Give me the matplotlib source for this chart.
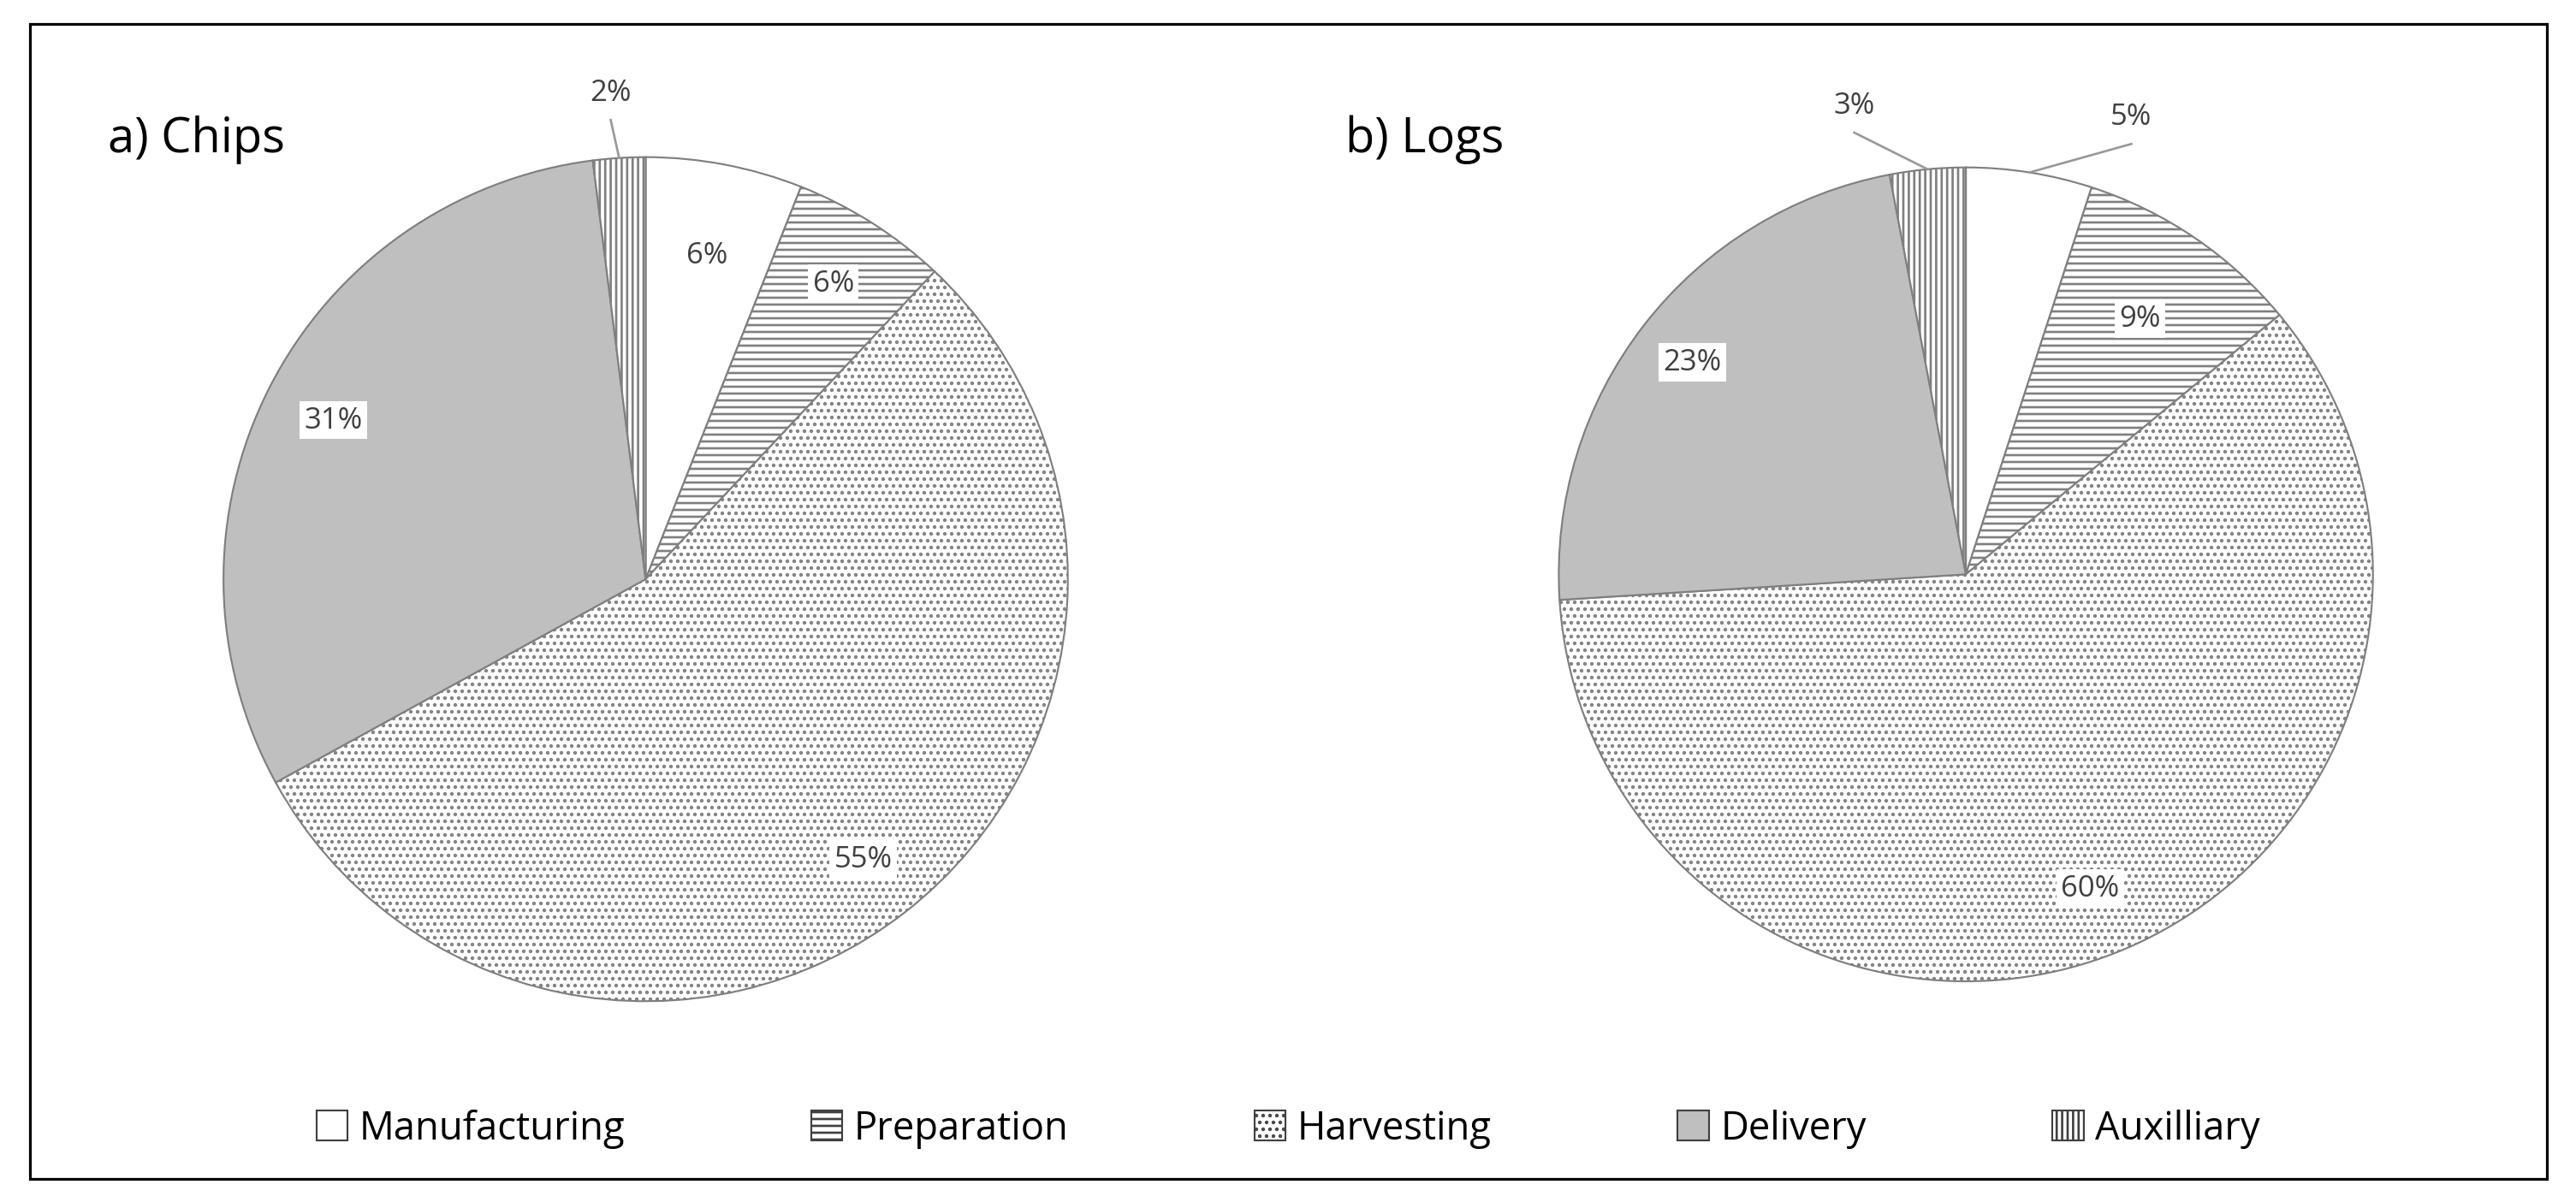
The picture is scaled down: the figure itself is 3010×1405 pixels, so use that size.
import numpy as np
import matplotlib
matplotlib.use("Agg")
import matplotlib.pyplot as plt
from matplotlib.patches import Rectangle, Patch

plt.rcParams['font.family'] = ['Open Sans', 'DejaVu Sans']
plt.rcParams['hatch.linewidth'] = 1.0

categories = ["Manufacturing", "Preparation", "Harvesting", "Delivery", "Auxilliary"]
chips = [6, 6, 55, 31, 2]
logs = [5, 9, 60, 23, 3]
colors = ["white", "white", "white", "#bfbfbf", "white"]
hatches = [None, "----", "....", None, "|||||"]

fig = plt.figure(figsize=(15.68, 7.32), dpi=192)
fig.add_artist(Rectangle((18/1568, 1-718/732), (1550-18)/1568, (718-15)/732,
                         transform=fig.transFigure, fill=False, ec="black", lw=1.2))

def draw(rect, vals, title, title_pos, inside_r, outside):
    ax = fig.add_axes(rect)
    wedges, _ = ax.pie(vals, startangle=90, counterclock=False, colors=colors,
                       wedgeprops=dict(edgecolor="#7f7f7f", linewidth=0.8))
    for w, h in zip(wedges, hatches):
        if h:
            w.set_hatch(h)
    ax.set_xlim(-1, 1); ax.set_ylim(-1, 1)
    ax.set_aspect("equal")
    for i, w in enumerate(wedges):
        ang = np.deg2rad((w.theta1 + w.theta2) / 2)
        txt = f"{vals[i]}%"
        if i in outside:
            dx, dy = outside[i]
            ex, ey = np.cos(ang), np.sin(ang)
            tx, ty = ex + dx, ey + dy
            ax.plot([ex, tx], [ey, ty - 0.03], color="#999999", lw=1, clip_on=False)
            ax.text(tx, ty, txt, ha="center", va="bottom", fontsize=13, color="#404040", clip_on=False)
        else:
            r = inside_r[i]
            ax.text(r*np.cos(ang), r*np.sin(ang), txt, ha="center", va="center", fontsize=13,
                    color="#404040", bbox=dict(fc="white", ec="none", pad=2))
    fig.text(title_pos[0], title_pos[1], title, fontsize=21, ha="left", va="center")

draw([0.2506-0.164, 0.518-0.351, 0.328, 0.702], chips, "a) Chips", (0.042, 0.884),
     {0: 0.78, 1: 0.83, 2: 0.84, 3: 0.83}, {4: (-0.02, 0.12)})
draw([0.763-0.158, 0.522-0.339, 0.316, 0.678], logs, "b) Logs", (0.522, 0.884),
     {1: 0.76, 2: 0.83, 3: 0.85}, {0: (0.25, 0.1), 4: (-0.18, 0.12)})

handles = [Patch(facecolor=c, edgecolor="#404040", hatch=h, linewidth=0.8) for c, h in zip(colors, hatches)]
fig.legend(handles, categories, loc="center", bbox_to_anchor=(0.5, 0.061), ncol=5, frameon=False,
           fontsize=17, columnspacing=4.8, handlelength=0.8, handleheight=0.8, handletextpad=0.3)

fig.savefig("out.png", dpi=192, facecolor="white")
